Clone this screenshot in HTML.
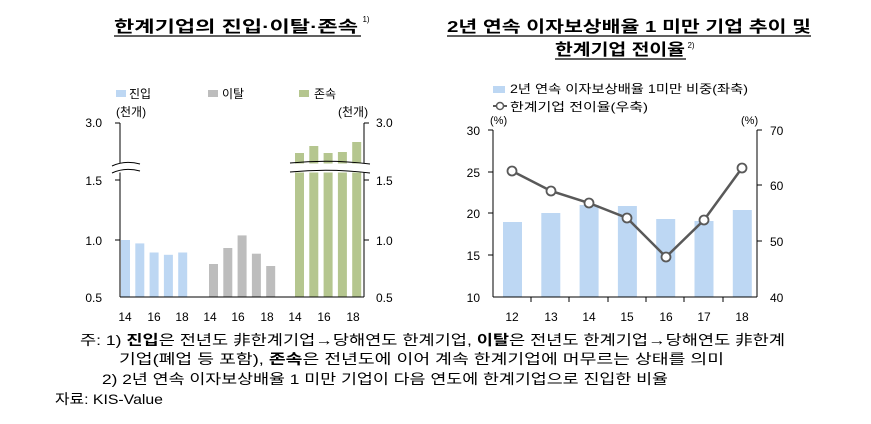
<!DOCTYPE html>
<html><head><meta charset="utf-8"><style>
body{margin:0;background:#fff;}
svg{display:block;font-family:"Liberation Sans","Noto Sans CJK KR",sans-serif;}
</style></head><body>
<svg width="871" height="424" viewBox="0 0 871 424" xmlns="http://www.w3.org/2000/svg">
<g font-weight="bold" font-size="16" fill="#000" text-anchor="middle">
<text x="236" y="32" textLength="244" lengthAdjust="spacingAndGlyphs">한계기업의 진입·이탈·존속</text>
<text x="366" y="22" font-size="8" font-weight="normal">1)</text>
<line x1="114" y1="36" x2="361" y2="36" stroke="#000" stroke-width="1.2"/>
<text x="629" y="32" textLength="364" lengthAdjust="spacingAndGlyphs">2년 연속 이자보상배율 1 미만 기업 추이 및</text>
<line x1="447" y1="36" x2="811" y2="36" stroke="#000" stroke-width="1.2"/>
<text x="620" y="55" textLength="130" lengthAdjust="spacingAndGlyphs">한계기업 전이율</text>
<text x="691" y="48" font-size="8" font-weight="normal">2)</text>
<line x1="555" y1="59" x2="686" y2="59" stroke="#000" stroke-width="1.2"/>
</g>
<g font-size="12" fill="#000">
<rect x="116" y="90" width="10" height="7" fill="#bdd7f3"/><text x="129" y="98">진입</text>
<rect x="208" y="90" width="10" height="7" fill="#bdbdbd"/><text x="222" y="98">이탈</text>
<rect x="299" y="90" width="10" height="7" fill="#b5c68f"/><text x="314" y="98">존속</text>
<text x="116" y="116">(천개)</text><text x="338" y="116">(천개)</text>
<g text-anchor="end"><text x="102" y="127">3.0</text><text x="102" y="185">1.5</text><text x="102" y="245">1.0</text><text x="102" y="302">0.5</text></g>
<text x="376" y="127">3.0</text><text x="376" y="185">1.5</text><text x="376" y="245">1.0</text><text x="376" y="302">0.5</text>
</g>
<g fill="#bdd7f3">
<rect x="121" y="240" width="9" height="57"/><rect x="135.3" y="243.4" width="9" height="53.6"/><rect x="149.6" y="252.5" width="9" height="44.5"/><rect x="163.9" y="254.8" width="9" height="42.2"/><rect x="178.2" y="252.5" width="9" height="44.5"/>
</g>
<g fill="#bdbdbd">
<rect x="209" y="264" width="9" height="33"/><rect x="223.3" y="248" width="9" height="49"/><rect x="237.6" y="235.4" width="9" height="61.6"/><rect x="251.9" y="253.7" width="9" height="43.3"/><rect x="266.2" y="266" width="9" height="31"/>
</g>
<g fill="#b5c68f">
<rect x="295" y="153" width="9" height="144"/><rect x="309.3" y="146" width="9" height="151"/><rect x="323.6" y="153" width="9" height="144"/><rect x="337.9" y="152" width="9" height="145"/><rect x="352.2" y="142" width="9" height="155"/>
</g>
<g stroke="#000" stroke-width="1" fill="none">
<line x1="120" y1="123" x2="120" y2="297"/><line x1="364" y1="123" x2="364" y2="297"/>
<line x1="120" y1="297" x2="364" y2="297"/>
<line x1="115" y1="123" x2="120" y2="123"/><line x1="115" y1="180" x2="120" y2="180"/><line x1="115" y1="240" x2="120" y2="240"/>
<line x1="364" y1="123" x2="369" y2="123"/><line x1="364" y1="180" x2="369" y2="180"/><line x1="364" y1="240" x2="369" y2="240"/>
</g>
<g stroke="#fff" fill="#fff"><rect x="110" y="164" width="30" height="8"/><rect x="290" y="164" width="80" height="8"/></g>
<g stroke="#000" stroke-width="1" fill="none">
<path d="M112 166 Q125 160 140 164"/><path d="M112 173 Q125 167 140 171"/>
<path d="M290 163 Q330 159 370 164"/><path d="M290 172 Q330 168 370 173"/>
</g>
<g font-size="12" text-anchor="middle" fill="#000">
<text x="125" y="321">14</text><text x="154" y="321">16</text><text x="182" y="321">18</text>
<text x="210" y="321">14</text><text x="238" y="321">16</text><text x="267" y="321">18</text>
<text x="295" y="321">14</text><text x="324" y="321">16</text><text x="353" y="321">18</text>
</g>
<g font-size="12" fill="#000">
<rect x="493" y="86" width="12" height="7" fill="#bdd7f3"/><text x="510" y="93" textLength="238" lengthAdjust="spacingAndGlyphs">2년 연속 이자보상배율 1미만 비중(좌축)</text>
<line x1="493" y1="106" x2="507" y2="106" stroke="#595959" stroke-width="2"/><circle cx="500" cy="106" r="3.5" fill="#fff" stroke="#595959" stroke-width="1.5"/>
<text x="510" y="111" textLength="138" lengthAdjust="spacingAndGlyphs">한계기업 전이율(우축)</text>
<text x="490" y="124" font-size="11">(%)</text><text x="741" y="124" font-size="11">(%)</text>
<g text-anchor="end"><text x="480" y="135">30</text><text x="480" y="177">25</text><text x="480" y="218">20</text><text x="480" y="260">15</text><text x="480" y="302">10</text></g>
<text x="770" y="135">70</text><text x="770" y="190">60</text><text x="770" y="246">50</text><text x="770" y="302">40</text>
</g>
<g fill="#bdd7f3">
<rect x="503" y="222" width="19" height="75"/><rect x="541.3" y="213" width="19" height="84"/><rect x="579.6" y="205" width="19" height="92"/><rect x="617.9" y="206" width="19" height="91"/><rect x="656.2" y="219" width="19" height="78"/><rect x="694.5" y="221" width="19" height="76"/><rect x="732.8" y="210" width="19" height="87"/>
</g>
<g stroke="#000" stroke-width="1" fill="none">
<line x1="493" y1="130" x2="493" y2="297"/><line x1="757" y1="130" x2="757" y2="297"/><line x1="493" y1="297" x2="757" y2="297"/>
<line x1="488" y1="130" x2="493" y2="130"/><line x1="488" y1="172" x2="493" y2="172"/><line x1="488" y1="213" x2="493" y2="213"/><line x1="488" y1="255" x2="493" y2="255"/>
<line x1="757" y1="130" x2="762" y2="130"/><line x1="757" y1="185" x2="762" y2="185"/><line x1="757" y1="241" x2="762" y2="241"/>
<line x1="531" y1="297" x2="531" y2="302"/><line x1="569" y1="297" x2="569" y2="302"/><line x1="608" y1="297" x2="608" y2="302"/><line x1="646" y1="297" x2="646" y2="302"/><line x1="684" y1="297" x2="684" y2="302"/><line x1="723" y1="297" x2="723" y2="302"/>
</g>
<polyline points="512,171 551,191 589,203 627,218 666,257 704,220 742,168" fill="none" stroke="#595959" stroke-width="2.5"/>
<g fill="#fff" stroke="#595959" stroke-width="1.8">
<circle cx="512" cy="171" r="4.5"/><circle cx="551" cy="191" r="4.5"/><circle cx="589" cy="203" r="4.5"/><circle cx="627" cy="218" r="4.5"/><circle cx="666" cy="257" r="4.5"/><circle cx="704" cy="220" r="4.5"/><circle cx="742" cy="168" r="4.5"/>
</g>
<g font-size="12" text-anchor="middle" fill="#000">
<text x="512" y="321">12</text><text x="551" y="321">13</text><text x="589" y="321">14</text><text x="627" y="321">15</text><text x="666" y="321">16</text><text x="704" y="321">17</text><text x="742" y="321">18</text>
</g>
<g font-size="14" fill="#000">
<text x="80" y="345" textLength="705" lengthAdjust="spacingAndGlyphs">주: 1) <tspan font-weight="bold">진입</tspan>은 전년도 非한계기업→당해연도 한계기업, <tspan font-weight="bold">이탈</tspan>은 전년도 한계기업→당해연도 非한계</text>
<text x="119" y="364" textLength="605" lengthAdjust="spacingAndGlyphs">기업(폐업 등 포함), <tspan font-weight="bold">존속</tspan>은 전년도에 이어 계속 한계기업에 머무르는 상태를 의미</text>
<text x="102" y="384" textLength="566" lengthAdjust="spacingAndGlyphs">2) 2년 연속 이자보상배율 1 미만 기업이 다음 연도에 한계기업으로 진입한 비율</text>
<text x="55" y="404" textLength="108" lengthAdjust="spacingAndGlyphs">자료: KIS-Value</text>
</g>
</svg>
</body></html>
